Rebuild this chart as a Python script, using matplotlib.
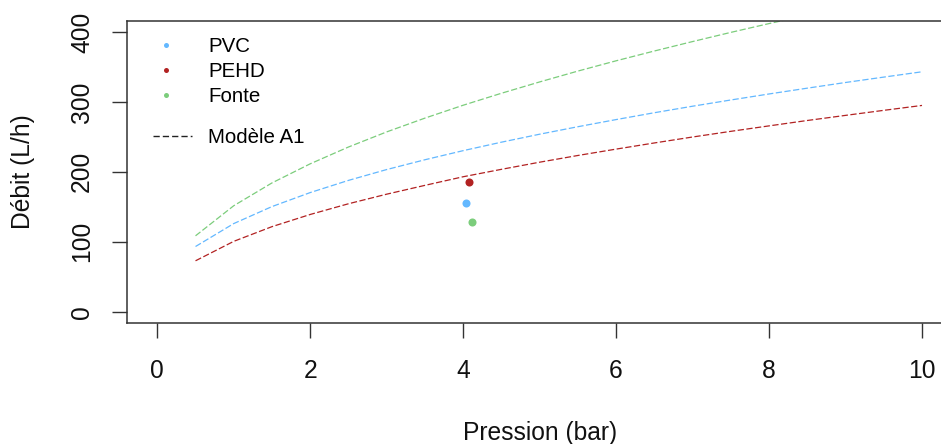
import matplotlib
matplotlib.use("Agg")
import matplotlib.pyplot as plt
from matplotlib.lines import Line2D

plt.rcParams['font.family'] = ['Liberation Sans', 'DejaVu Sans']

# Data
pression = [0.5, 1.0, 1.5, 2.0, 2.5, 3.0, 3.5, 4.0, 4.5, 5.0,
            5.5, 6.0, 6.5, 7.0, 7.5, 8.0, 8.5, 9.0, 9.5, 10.0]
modele_pvc = [93.3, 126.1, 150.4, 170.4, 187.8, 203.3, 217.3, 230.3, 242.4, 253.8,
              264.5, 274.7, 284.5, 293.8, 302.7, 311.3, 319.6, 327.7, 335.4, 343.0]
modele_pehd = [72.9, 100.7, 121.7, 139.1, 154.4, 168.1, 180.7, 193.0, 203.6, 213.8,
               223.4, 232.5, 241.3, 249.8, 257.9, 265.7, 273.4, 280.7, 287.9, 294.9]
modele_fonte = [108.6, 151.6, 184.2, 211.5, 235.5, 257.1, 276.8, 295.2, 312.3, 328.5,
                344.0, 358.7, 372.7, 386.2, 399.3, 411.9, 424.0, 435.8, 447.3, 458.5]

mesure_p = [4.04, 4.08, 4.12]
mesure_q = [156, 186, 129]
materiaux = ["PVC", "PEHD", "Fonte"]
couleurs = ["#63B8FF", "#B22222", "#7CCD7C"]

W, H = 941, 444
fig = plt.figure(figsize=(W / 100, H / 100), dpi=100)
left, right, top, bottom = 126.7, 952.6, 20.7, 323.0
ax = fig.add_axes([left / W, (H - bottom) / H, (right - left) / W, (bottom - top) / H])

dash = (0, (5.0, 2.0))
for q, c in zip([modele_pvc, modele_pehd, modele_fonte], couleurs):
    ax.plot(pression, q, color=c, lw=0.9, linestyle=dash)

for p, q, c in zip(mesure_p, mesure_q, couleurs):
    ax.plot([p], [q], 'o', color=c, markersize=5.8, markeredgewidth=0)

ax.set_xlim(-0.4, 10.4)
ax.set_ylim(-16, 416)
ax.set_xticks([0, 2, 4, 6, 8, 10])
ax.set_yticks([0, 100, 200, 300, 400])
for s in ax.spines.values():
    s.set_color('#333333')
    s.set_linewidth(1.1)
ax.tick_params(axis='both', length=10.8, width=1.0, color='#333333', labelsize=17.7,
               labelcolor='#111111')
ax.tick_params(axis='x', pad=15)
ax.tick_params(axis='y', pad=12.6)
for lab in ax.get_yticklabels():
    lab.set_rotation(90)
    lab.set_va('center')

ax.set_xlabel("Pression (bar)", fontsize=17.7, color='#111111', labelpad=27.5)
ax.set_ylabel("Débit (L/h)", fontsize=17.7, color='#111111', labelpad=25)

h1 = [Line2D([], [], marker='o', linestyle='none', color=c, markersize=3.6,
             markeredgewidth=0) for c in couleurs]
leg1 = ax.legend(h1, materiaux, loc='upper left', frameon=False, fontsize=14.8,
                 bbox_to_anchor=(147 / W, (H - 37.5) / H), bbox_transform=fig.transFigure,
                 borderpad=0, borderaxespad=0, handlelength=1.88, handletextpad=1.1,
                 labelspacing=0.28)
ax.add_artist(leg1)
h2 = [Line2D([], [], color='#222222', lw=1.0, linestyle=(0, (4.5, 2.2)))]
ax.legend(h2, ["Modèle A1"], loc='upper left', frameon=False, fontsize=14.8,
          bbox_to_anchor=(153 / W, (H - 128) / H), bbox_transform=fig.transFigure,
          borderpad=0, borderaxespad=0, handlelength=1.88, handletextpad=0.78)

fig.savefig("out.png", dpi=100)
